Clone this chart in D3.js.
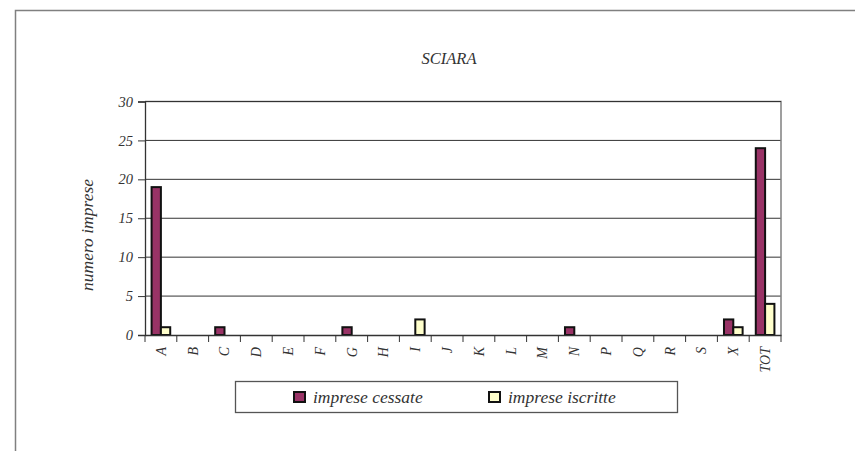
<!DOCTYPE html>
<html>
<head>
<meta charset="utf-8">
<script src="https://cdn.jsdelivr.net/npm/d3@7"></script>
<style>
  body { margin: 0; background: #fff; }
  text { font-family: "Liberation Serif", "Times New Roman", serif; font-style: italic; fill: #333; }
</style>
</head>
<body>
<svg id="chart" width="855" height="451"></svg>
<script>
// data
var categories = ["A","B","C","D","E","F","G","H","I","J","K","L","M","N","P","Q","R","S","X","TOT"];
var cessate  = [19,0,1,0,0,0,1,0,0,0,0,0,0,1,0,0,0,0,2,24];
var iscritte = [1,0,0,0,0,0,0,0,2,0,0,0,0,0,0,0,0,0,1,4];
var yTicks = [0,5,10,15,20,25,30];
var seriesNames = ["imprese cessate","imprese iscritte"];
var seriesColors = ["#993366","#FFFFCC"];

var svg = d3.select("#chart");
var margin = {top: 101.5, left: 145, right: 74, bottom: 116};
var width = 855 - margin.left - margin.right,
    height = 451 - margin.top - margin.bottom;

// outer frame (only top and left visible)
svg.append("path")
  .attr("d", "M15.5,451 V10.5 H855")
  .attr("fill", "none").attr("stroke", "#808080").attr("stroke-width", 1.5);

svg.append("text")
  .attr("x", 449).attr("y", 64)
  .attr("text-anchor", "middle")
  .style("font-size", "16.5px")
  .text("SCIARA");

var g = svg.append("g").attr("transform", "translate(" + margin.left + "," + margin.top + ")");

var x = d3.scaleBand().domain(categories).range([0, width]);
var y = d3.scaleLinear().domain([0, 30]).range([height, 0]);

// gridlines
g.selectAll(".grid").data(yTicks.slice(1, -1)).enter().append("line")
  .attr("x1", 0).attr("x2", width)
  .attr("y1", function(d){ return y(d); }).attr("y2", function(d){ return y(d); })
  .attr("stroke", "#333").attr("stroke-width", 1);

// plot border top + right
g.append("path")
  .attr("d", "M0," + y(30) + " H" + width + " V" + height)
  .attr("fill", "none").attr("stroke", "#808080").attr("stroke-width", 1.5);
g.append("line").attr("x1", 0).attr("x2", width).attr("y1", y(30)).attr("y2", y(30))
  .attr("stroke", "#333").attr("stroke-width", 1);

// bars
var barW = x.bandwidth() * 0.293;
var offs = (x.bandwidth() - 2 * barW) / 2;
[cessate, iscritte].forEach(function(vals, si){
  var pts = vals.map(function(v, i){ return {cat: categories[i], v: v}; })
    .filter(function(d){ return d.v > 0; });
  g.selectAll(".bar" + si).data(pts).enter().append("rect")
    .attr("x", function(d){ return x(d.cat) + offs + si * barW; })
    .attr("y", function(d){ return y(d.v); })
    .attr("width", barW)
    .attr("height", function(d){ return height - y(d.v); })
    .attr("fill", seriesColors[si])
    .attr("stroke", "#111").attr("stroke-width", 2);
});

// y axis
var yAxis = d3.axisLeft(y).tickValues(yTicks).tickSize(7).tickPadding(5);
var ya = g.append("g").call(yAxis);
ya.select(".domain").attr("stroke", "#333").attr("stroke-width", 1.3);
ya.selectAll(".tick line").attr("stroke", "#333");
ya.selectAll("text").style("font-size", "14.5px").attr("fill", "#333")
  .style("font-family", "'Liberation Serif', serif").style("font-style", "italic");

// x axis
var xAxis = d3.axisBottom(x).tickSize(0).tickSizeOuter(0);
var xa = g.append("g").attr("transform", "translate(0," + height + ")").call(xAxis);
xa.select(".domain").attr("stroke", "#333").attr("stroke-width", 1.3);
xa.selectAll(".tick text")
  .attr("transform", "rotate(-90)")
  .attr("x", -12).attr("y", 0).attr("dy", "0.35em")
  .attr("text-anchor", "end")
  .style("font-size", "14px").attr("fill", "#333")
  .style("font-family", "'Liberation Serif', serif").style("font-style", "italic");
// band-edge tick marks
g.selectAll(".xt").data(categories.concat(["end"])).enter().append("line")
  .attr("x1", function(d, i){ return i * x.step(); })
  .attr("x2", function(d, i){ return i * x.step(); })
  .attr("y1", height).attr("y2", height + 7)
  .attr("stroke", "#333").attr("stroke-width", 1);

// y title
svg.append("text")
  .attr("transform", "translate(93,235) rotate(-90)")
  .attr("text-anchor", "middle")
  .style("font-size", "17.5px")
  .text("numero imprese");

// legend
var lg = svg.append("g");
lg.append("rect").attr("x", 235.5).attr("y", 381.5).attr("width", 442).attr("height", 31)
  .attr("fill", "#fff").attr("stroke", "#555").attr("stroke-width", 1.3);
var legX = [294, 489];
seriesNames.forEach(function(n, i){
  lg.append("rect").attr("x", legX[i]).attr("y", 392).attr("width", 11).attr("height", 10)
    .attr("fill", seriesColors[i]).attr("stroke", "#111").attr("stroke-width", 2);
  lg.append("text").attr("x", legX[i] + 19).attr("y", 403)
    .style("font-size", "17.5px").text(n);
});
</script>
</body>
</html>
